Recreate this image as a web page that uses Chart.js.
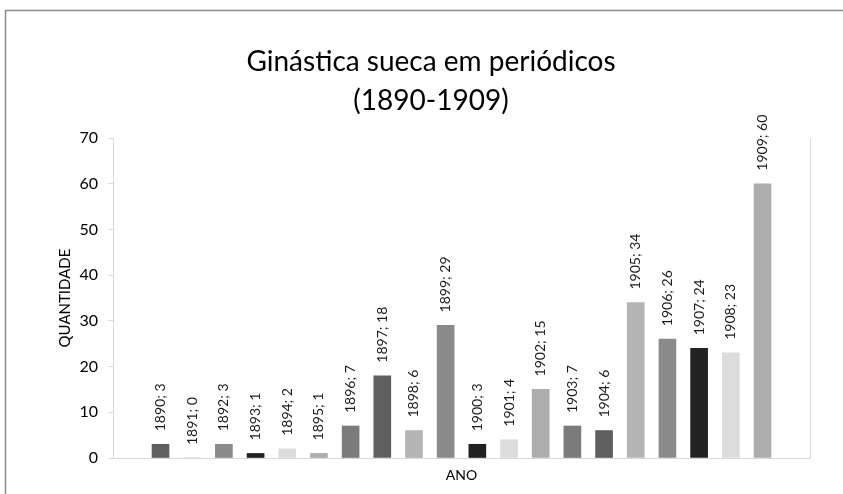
<!DOCTYPE html>
<html>
<head>
<meta charset="utf-8">
<script src="https://cdn.jsdelivr.net/npm/chart.js@4.4.1/dist/chart.umd.min.js"></script>
<style>
  html, body { margin: 0; padding: 0; background: #fff; }
  #wrap { width: 843px; height: 494px; position: relative; }
</style>
</head>
<body>
<div id="wrap"><canvas id="c" width="843" height="494"></canvas></div>
<script>
const titleLines = ['Ginástica sueca em periódicos', '(1890-1909)'];
const years = ['1890','1891','1892','1893','1894','1895','1896','1897','1898','1899',
               '1900','1901','1902','1903','1904','1905','1906','1907','1908','1909'];
const quantities = [3, 0, 3, 1, 2, 1, 7, 18, 6, 29, 3, 4, 15, 7, 6, 34, 26, 24, 23, 60];
const barColors = ['#5f5f5f','#b4b4b4','#8a8a8a','#222222','#dcdcdc','#adadad','#7b7b7b',
                   '#5f5f5f','#b4b4b4','#8a8a8a','#222222','#dcdcdc','#adadad','#7b7b7b',
                   '#5f5f5f','#b4b4b4','#8a8a8a','#222222','#dcdcdc','#adadad'];
const yTicks = [0, 10, 20, 30, 40, 50, 60, 70];

// pad with an empty slot on each side (as in the reference's plot area)
const labels = [''].concat(years, ['']);
const dataPadded = [null].concat(quantities, [null]);
const colorsPadded = ['#fff'].concat(barColors, ['#fff']);

const FONT = 'Lato, "Open Sans", sans-serif';

const decor = {
  id: 'decor',
  beforeDraw(chart) {
    const ctx = chart.ctx;
    ctx.save();
    ctx.strokeStyle = '#8c8c8c';
    ctx.lineWidth = 1.5;
    ctx.beginPath();
    ctx.moveTo(5.5, 494);
    ctx.lineTo(5.5, 10.5);
    ctx.lineTo(843, 10.5);
    ctx.stroke();
    // title
    ctx.fillStyle = '#000';
    ctx.font = '28px ' + FONT;
    ctx.textAlign = 'center';
    ctx.textBaseline = 'middle';
    ctx.fillText(titleLines[0], 431, 62);
    ctx.fillText(titleLines[1], 431, 101);
    ctx.restore();
  },
  afterDraw(chart) {
    const ctx = chart.ctx;
    const a = chart.chartArea;
    ctx.save();
    ctx.strokeStyle = '#d9d9d9';
    ctx.lineWidth = 1;
    ctx.beginPath();
    ctx.moveTo(Math.round(a.right) + 0.5, a.top);
    ctx.lineTo(Math.round(a.right) + 0.5, a.bottom);
    ctx.stroke();
    ctx.restore();
  },
  afterDatasetsDraw(chart) {
    const ctx = chart.ctx;
    const meta = chart.getDatasetMeta(0);
    ctx.save();
    ctx.fillStyle = '#1a1a1a';
    ctx.font = '14px ' + FONT;
    ctx.textAlign = 'left';
    ctx.textBaseline = 'middle';
    meta.data.forEach((bar, i) => {
      const v = dataPadded[i];
      if (v === null) return;
      ctx.save();
      ctx.translate(bar.x, bar.y - 13);
      ctx.rotate(-Math.PI / 2);
      ctx.fillText(labels[i] + '; ' + v, 0, 0);
      ctx.restore();
    });
    ctx.restore();
  }
};

new Chart(document.getElementById('c'), {
  type: 'bar',
  data: {
    labels: labels,
    datasets: [{
      data: dataPadded,
      backgroundColor: colorsPadded,
      borderWidth: 0,
      barThickness: 17
    }]
  },
  options: {
    responsive: false,
    animation: false,
    layout: { padding: { left: 0, right: 33, top: 138, bottom: 0 } },
    plugins: { legend: { display: false }, tooltip: { enabled: false }, title: { display: false } },
    scales: {
      x: {
        grid: { display: false, drawTicks: false },
        border: { display: true, color: '#d9d9d9' },
        ticks: { display: false },
        title: { display: true, text: 'ANO', color: '#000', font: { family: FONT, size: 14 }, padding: { top: 0, bottom: 10 } },
        afterFit(s) { s.height = 36; }
      },
      y: {
        min: 0, max: 70,
        afterBuildTicks(s) { s.ticks = yTicks.map(v => ({ value: v })); },
        grid: { drawOnChartArea: false, drawTicks: true, tickLength: 5, color: '#d9d9d9' },
        border: { display: true, color: '#d9d9d9' },
        ticks: { color: '#000', font: { family: FONT, size: 16 }, padding: 10 },
        title: { display: true, text: 'QUANTIDADE', color: '#000', font: { family: FONT, size: 15 }, padding: { top: 56, bottom: 0 } },
        afterFit(s) { s.width = 113; }
      }
    }
  },
  plugins: [decor]
});
</script>
</body>
</html>
